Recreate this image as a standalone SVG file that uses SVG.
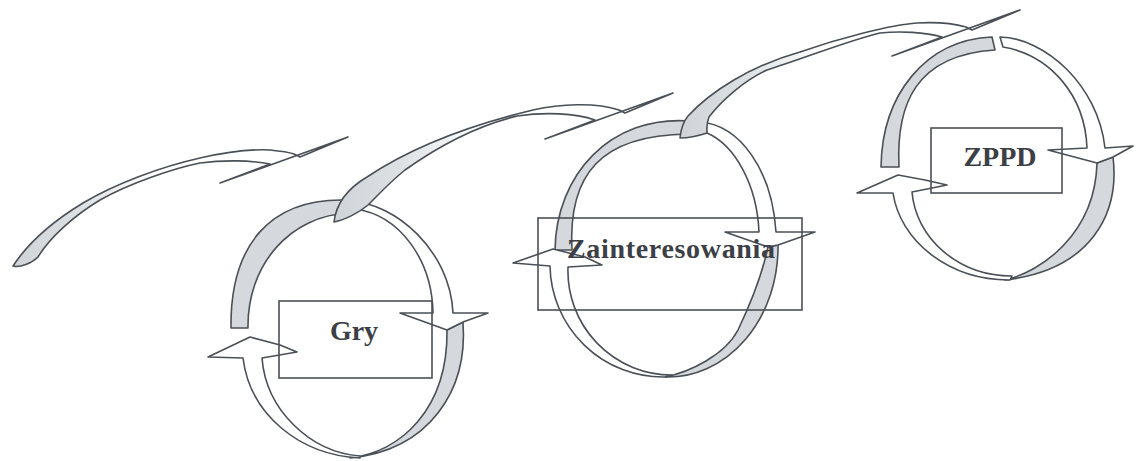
<svg xmlns="http://www.w3.org/2000/svg" width="1136" height="461" viewBox="0 0 1136 461">
<defs>
<linearGradient id="swg" x1="0" y1="0" x2="1" y2="0">
<stop offset="0" stop-color="#cfd4d8"/>
<stop offset="0.2" stop-color="#dde1e4"/>
<stop offset="0.42" stop-color="#ffffff"/>
</linearGradient>
<style>
.ln{stroke:#4b5056;stroke-width:1.6;stroke-linejoin:round;stroke-linecap:round}
.g{fill:#d5d9dd}
.w{fill:#ffffff}
.sw{fill:url(#swg)}
.box{fill:none;stroke:#4b5056;stroke-width:1.6}
.lbl{font-family:"Liberation Serif","Times New Roman",serif;font-weight:bold;font-size:28px;fill:#3c4046}
</style>
</defs>
<rect width="1136" height="461" fill="#ffffff"/>

<g id="node-gry">
<path class="ln g" d="M346,200 C270,198 230,245 231,328 L248,328 C247,265 290,215 350,213 Z"/>
<path class="ln g" d="M463,322 C468,390 430,450 350,458 C400,452 448,410 447,330 Z"/>
<path class="ln w" d="M208,357 L250,337 L280,345 L297,352 L262,358 C266,410 310,452 360,456 L360,458 C300,455 250,415 243,358 Z"/>
<path class="ln w" d="M350,201 C395,203 450,250 453,313 L488,313 L463,322 L447,330 L400,313 L433,313 C432,260 400,215 355,209 Z"/>
<rect class="box" x="279" y="301" width="153" height="77"/>
<text class="lbl" x="354" y="340" text-anchor="middle">Gry</text>
</g>

<g id="node-zainteresowania">
<path class="ln g" d="M690,121 C610,115 556,175 555,250 L572,250 C568,175 600,135 688,134 Z"/>
<path class="ln g" d="M778,245 A110,130 0 0 1 665,377 C690,372 725,355 738,330 C750,305 762,275 768,247 Z"/>
<path class="ln w" d="M513,263 L553,249 L585,257 L602,265 L568,267 A104,104 0 0 0 672,375 L665,377 A113,113 0 0 1 550,266 Z"/>
<path class="ln w" d="M700,122 C740,125 772,170 776,232 L815,232 L778,245 L768,247 L725,232 L759,232 C757,185 735,145 707,133 Z"/>
<rect class="box" x="538" y="218" width="264" height="92"/>
<text class="lbl" x="567" y="258" textLength="208" lengthAdjust="spacing">Zainteresowania</text>
</g>

<g id="node-zppd">
<path class="ln g" d="M992,37 C925,40 882,95 881,167 L899,167 C896,105 915,55 995,50 Z"/>
<path class="ln g" d="M1113,157 C1120,215 1090,270 1005,280 C1040,272 1095,235 1097,163 Z"/>
<path class="ln w" d="M857,193 L898,175 L925,180 L947,185 L912,192 A100,91 0 0 0 1012,276 L1010,280 A117,100 0 0 1 893,193 Z"/>
<path class="ln w" d="M1000,37 C1045,38 1098,85 1105,148 L1133,146 L1113,157 L1097,163 L1048,150 L1087,148 C1085,95 1050,55 1003,47 Z"/>
<rect class="box" x="931" y="128" width="131" height="65"/>
<text class="lbl" x="1000" y="166" text-anchor="middle">ZPPD</text>
</g>

<g id="connectors">
<path id="arrow-1" class="ln sw" d="M13,266 C30,240 55,220 83,203 C115,184 160,167 200,158 C222,153 250,149 270,150 C280,151 288,152 294,154 L300,157 L348,137 L220,183 L270,164 C250,160 222,160 200,163 C175,168 130,183 100,200 C75,215 50,237 38,257 C32,263 20,268 13,266 Z"/>
<path id="arrow-2" class="ln sw" d="M334,222 C336,205 345,190 367,177 C400,155 450,130 533,110 C560,104 595,102 619,110 L625,113 L673,93 L545,139 L595,120 C575,113 545,112 517,116 C480,125 440,145 405,170 C390,182 378,195 368,205 C360,212 345,220 334,222 Z"/>
<path id="arrow-3" class="ln sw" d="M680,138 C681,128 683,122 688,116 C710,92 750,66 800,52 C840,38 890,25 917,23 C935,22 952,23 966,27 L972,30 L1020,10 L892,56 L942,37 C925,32 900,31 880,33 C850,40 805,58 767,70 C745,80 722,100 709,117 C706,124 707,130 707,133 C698,136 688,138 680,138 Z"/>
</g>
</svg>
